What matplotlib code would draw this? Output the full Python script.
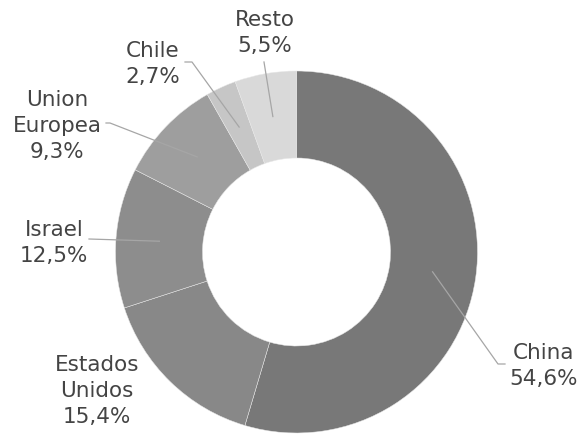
import numpy as np
import matplotlib
matplotlib.use("Agg")
import matplotlib.pyplot as plt

categories = ["China", "Estados\nUnidos", "Israel", "Union\nEuropea", "Chile", "Resto"]
values = [54.6, 15.4, 12.5, 9.3, 2.7, 5.5]
value_labels = ["54,6%", "15,4%", "12,5%", "9,3%", "2,7%", "5,5%"]
colors = ["#787878", "#888888", "#8d8d8d", "#9e9e9e", "#c6c6c6", "#d9d9d9"]

W, H = 577, 434
fig = plt.figure(figsize=(W / 100, H / 100), dpi=100)
ax = fig.add_axes([0, 0, 1, 1])

def P(x, y):
    return (x, H - y)

cx, cy = 296.5, 252
R = 181
ring = 87

wedges, _ = ax.pie(values, colors=colors, startangle=90, counterclock=False,
                   center=P(cx, cy), radius=R,
                   wedgeprops=dict(width=ring, edgecolor="#e8e8e8", linewidth=0.35))
ax.set_xlim(0, W)
ax.set_ylim(0, H)
ax.set_aspect("auto")
ax.axis("off")

# label layout (pixel coords, y down): text center, leader path end points
text_pos = [(544, 366), (97, 391), (54, 243), (57, 126), (153, 64), (265, 33)]
leader_pts = [
    [(498, 364), (505, 364)],
    None,
    [(89, 239)],
    [(110, 123), (106, 123)],
    [(192, 62), (185, 62)],
    [(264, 62)],
]

r_anchor = R - ring / 2
for w, cat, vl, tp, lp in zip(wedges, categories, value_labels, text_pos, leader_pts):
    ax.text(*P(*tp), f"{cat}\n{vl}", ha="center", va="center", fontsize=15.5,
            color="#444444", family="DejaVu Sans", linespacing=1.4)
    if lp is None:
        continue
    mid = np.deg2rad((w.theta1 + w.theta2) / 2)
    ax0 = w.center[0] + r_anchor * np.cos(mid)
    ay0 = w.center[1] + r_anchor * np.sin(mid)
    xs = [ax0] + [P(*p)[0] for p in lp]
    ys = [ay0] + [P(*p)[1] for p in lp]
    ax.plot(xs, ys, color="#a6a6a6", linewidth=0.9)

fig.savefig("out.png", dpi=100)
